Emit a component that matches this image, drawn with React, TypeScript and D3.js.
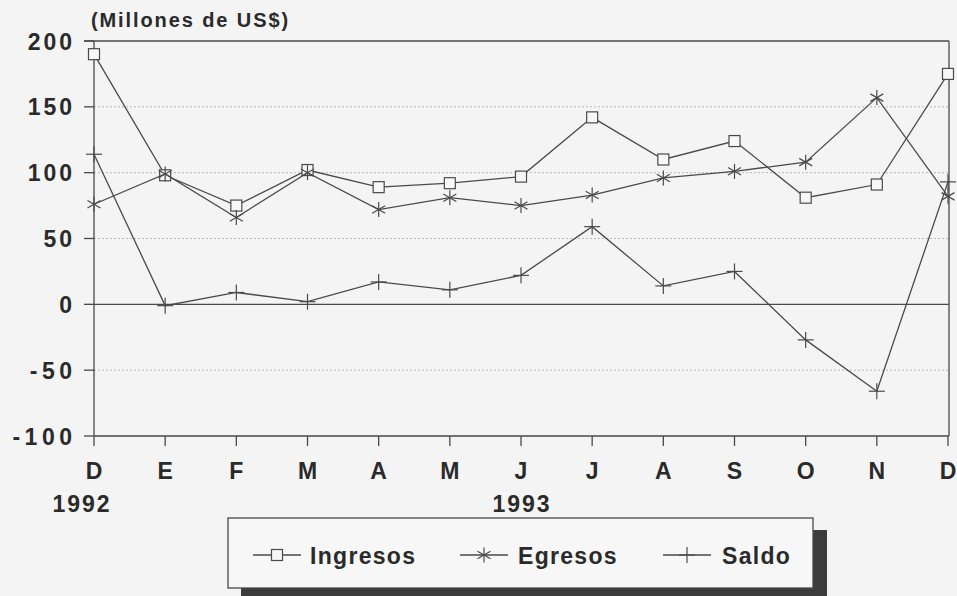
import React from "react";
import * as d3 from "d3";

const months = ["D", "E", "F", "M", "A", "M", "J", "J", "A", "S", "O", "N", "D"];
const ingresos = [190, 98, 75, 102, 89, 92, 97, 142, 110, 124, 81, 91, 175];
const egresos = [76, 99, 66, 100, 72, 81, 75, 83, 96, 101, 108, 157, 82];
const saldo = [114, -1, 9, 2, 17, 11, 22, 59, 14, 25, -27, -66, 93];
const yTicks = [200, 150, 100, 50, 0, -50, -100];
const gridVals = [150, 100, 50, -50];
const years = [
  { label: "1992", idx: 0, dx: -13 },
  { label: "1993", idx: 6, dx: 0 },
];
const seriesNames = ["Ingresos", "Egresos", "Saldo"];

const W = 957;
const H = 596;
const FONT = "'Liberation Sans', Arial, Helvetica, sans-serif";
const INK = "#2a2a2a";
const LINE = "#4a4a4a";

function Marker({ kind, x, y }: { kind: string; x: number; y: number }) {
  if (kind === "square") {
    return <rect x={x - 5.5} y={y - 5.5} width={11} height={11} fill="#f7f7f7" stroke={LINE} strokeWidth={1.2} />;
  }
  if (kind === "star") {
    const r = 7.5;
    const a = r * Math.cos(Math.PI / 6);
    const b = r * Math.sin(Math.PI / 6);
    return (
      <g stroke={LINE} strokeWidth={1.2}>
        <line x1={x} y1={y - r} x2={x} y2={y + r} />
        <line x1={x - a} y1={y - b} x2={x + a} y2={y + b} />
        <line x1={x - a} y1={y + b} x2={x + a} y2={y - b} />
      </g>
    );
  }
  return (
    <g stroke={LINE} strokeWidth={1.2}>
      <line x1={x} y1={y - 8} x2={x} y2={y + 8} />
      <line x1={x - 8} y1={y} x2={x + 8} y2={y} />
    </g>
  );
}

export default function App() {
  const left = 94;
  const right = 949;
  const top = 41;
  const bottom = 436;
  const x = d3.scaleLinear().domain([0, months.length - 1]).range([left, right - 1]);
  const y = d3.scaleLinear().domain([-100, 200]).range([bottom, top]);
  const line = d3
    .line<number>()
    .x((_, i) => x(i))
    .y((d) => y(d));

  const series = [
    { name: seriesNames[0], data: ingresos, kind: "square" },
    { name: seriesNames[1], data: egresos, kind: "star" },
    { name: seriesNames[2], data: saldo, kind: "plus" },
  ];

  const legendItems = [
    { x0: 253, tx: 310, kind: "square", name: seriesNames[0] },
    { x0: 460, tx: 518, kind: "star", name: seriesNames[1] },
    { x0: 663, tx: 722, kind: "plus", name: seriesNames[2] },
  ];

  return (
    <svg
      width={W}
      height={H}
      style={{ position: "absolute", left: 0, top: 0, background: "#f4f4f4" }}
      fontFamily={FONT}
    >
      <rect x={0} y={0} width={W} height={H} fill="#f4f4f4" />
      {/* title */}
      <text x={91} y={27} fontSize={20} fontWeight={700} fill={INK} letterSpacing={1.9}>
        (Millones de US$)
      </text>

      {/* grid */}
      {gridVals.map((v) => (
        <line
          key={"g" + v}
          x1={left}
          x2={right}
          y1={y(v)}
          y2={y(v)}
          stroke="#b8b8b8"
          strokeWidth={1}
          strokeDasharray="2,2"
        />
      ))}
      {/* zero line */}
      <line x1={left} x2={right} y1={y(0)} y2={y(0)} stroke={LINE} strokeWidth={1.3} />
      {/* frame */}
      <line x1={left - 10} x2={right} y1={y(200)} y2={y(200)} stroke={LINE} strokeWidth={1.3} />
      <line x1={right} x2={right} y1={y(200)} y2={bottom} stroke={LINE} strokeWidth={1.3} />
      <line x1={left} x2={left} y1={y(200)} y2={bottom} stroke={LINE} strokeWidth={1.3} />
      <line x1={left} x2={right} y1={bottom} y2={bottom} stroke={LINE} strokeWidth={1.3} />

      {/* y ticks */}
      {yTicks.map((v) => {
        const ls = v < 0 ? 4.5 : 3;
        return (
          <g key={"y" + v}>
            <line x1={left - 10} x2={left} y1={y(v)} y2={y(v)} stroke={LINE} strokeWidth={1.3} />
            <text
              x={72 + ls}
              y={y(v) + 8.5}
              textAnchor="end"
              fontSize={23}
              fontWeight={700}
              fill={INK}
              letterSpacing={ls}
            >
              {v < 0 ? "-" + Math.abs(v) : String(v)}
            </text>
          </g>
        );
      })}

      {/* x ticks */}
      {months.map((m, i) => (
        <g key={"x" + i}>
          <line x1={x(i)} x2={x(i)} y1={bottom} y2={bottom + 10} stroke={LINE} strokeWidth={1.3} />
          <text x={x(i)} y={478.5} textAnchor="middle" fontSize={23} fontWeight={700} fill={INK}>
            {m}
          </text>
        </g>
      ))}
      {years.map((yr) => (
        <text
          key={yr.label}
          x={x(yr.idx) + yr.dx + 1}
          y={511.5}
          textAnchor="middle"
          fontSize={23}
          fontWeight={700}
          fill={INK}
          letterSpacing={2}
        >
          {yr.label}
        </text>
      ))}

      {/* series */}
      {series.map((s) => (
        <g key={s.name}>
          <path d={line(s.data) || ""} fill="none" stroke={LINE} strokeWidth={1.3} />
          {s.data.map((v, i) => (
            <Marker key={i} kind={s.kind} x={x(i)} y={y(v)} />
          ))}
        </g>
      ))}

      {/* legend */}
      <rect x={241} y={530} width={586} height={80} fill="#3c3c3c" />
      <rect x={228} y={518} width={585} height={70} fill="#f7f7f7" stroke={LINE} strokeWidth={1.3} />
      {legendItems.map((it) => (
        <g key={it.name}>
          <line x1={it.x0} x2={it.x0 + 48} y1={555} y2={555} stroke={LINE} strokeWidth={1.3} />
          <Marker kind={it.kind} x={it.x0 + 24} y={555} />
          <text x={it.tx} y={563.5} fontSize={23} fontWeight={700} fill={INK} letterSpacing={1.3}>
            {it.name}
          </text>
        </g>
      ))}
    </svg>
  );
}
